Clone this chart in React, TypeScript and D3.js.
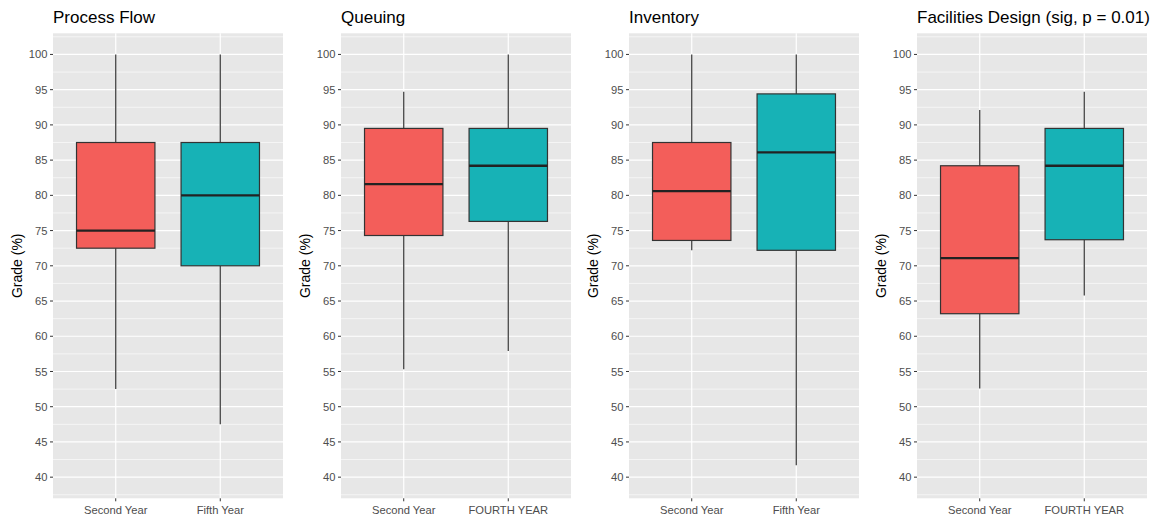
import React from "react";
import * as d3 from "d3";

// Course grade distributions, one boxplot panel per course
const courseTitles = ["Process Flow", "Queuing", "Inventory", "Facilities Design (sig, p = 0.01)"];
const groupLabels = [
  ["Second Year", "Fifth Year"],
  ["Second Year", "FOURTH YEAR"],
  ["Second Year", "Fifth Year"],
  ["Second Year", "FOURTH YEAR"],
];
// five-number summaries per course: [second-year group, later group]
const whiskerLow = [[52.5, 47.5], [55.3, 57.9], [72.2, 41.7], [52.6, 65.8]];
const quartile1 = [[72.5, 70.0], [74.3, 76.3], [73.6, 72.2], [63.2, 73.7]];
const medians = [[75.0, 80.0], [81.6, 84.2], [80.6, 86.1], [71.1, 84.2]];
const quartile3 = [[87.5, 87.5], [89.5, 89.5], [87.5, 94.4], [84.2, 89.5]];
const whiskerHigh = [[100, 100], [94.7, 100], [100, 100], [92.1, 94.7]];
const yTicks = [40, 45, 50, 55, 60, 65, 70, 75, 80, 85, 90, 95, 100];
const yLimits = [40, 100];

const fills = ["#F35E5A", "#17B2B6"];
const FONT = "'Liberation Sans', Arial, Helvetica, sans-serif";

const W = 1161;
const H = 518;
const panelLefts = [53, 341, 629, 917];
const panelW = 230;
const panelTop = 33.3;
const panelBottom = 498.3;

function Panel({ idx }: { idx: number }) {
  const left = panelLefts[idx];
  const pad = (yLimits[1] - yLimits[0]) * 0.05;
  const y = d3.scaleLinear().domain([yLimits[0] - pad, yLimits[1] + pad]).range([panelBottom, panelTop]);
  const x = d3.scalePoint<string>().domain(groupLabels[idx]).range([0, panelW]).padding(0.6);
  const boxW = x.step() * 0.75;
  const minorTicks = d3.range(yLimits[0] - 2.5, yLimits[1] + 5, 5).filter((v) => y(v) >= panelTop && y(v) <= panelBottom);
  const midY = (panelTop + panelBottom) / 2;

  return (
    <g>
      <text x={left} y={23} fontFamily={FONT} fontSize={17} fill="#000">
        {courseTitles[idx]}
      </text>
      <rect x={left} y={panelTop} width={panelW} height={panelBottom - panelTop} fill="#E7E7E7" />
      {minorTicks.map((v) => (
        <line key={"mn" + v} x1={left} x2={left + panelW} y1={y(v)} y2={y(v)} stroke="#fff" strokeWidth={0.6} />
      ))}
      {yTicks.map((v) => (
        <line key={"mj" + v} x1={left} x2={left + panelW} y1={y(v)} y2={y(v)} stroke="#fff" strokeWidth={1.2} />
      ))}
      {groupLabels[idx].map((g) => (
        <line key={"vg" + g} x1={left + x(g)!} x2={left + x(g)!} y1={panelTop} y2={panelBottom} stroke="#fff" strokeWidth={1.2} />
      ))}
      {groupLabels[idx].map((g, j) => {
        const cx = left + x(g)!;
        return (
          <g key={"bx" + g}>
            <line x1={cx} x2={cx} y1={y(whiskerHigh[idx][j])} y2={y(quartile3[idx][j])} stroke="#444" strokeWidth={1.3} />
            <line x1={cx} x2={cx} y1={y(quartile1[idx][j])} y2={y(whiskerLow[idx][j])} stroke="#444" strokeWidth={1.3} />
            <rect
              x={cx - boxW / 2}
              y={y(quartile3[idx][j])}
              width={boxW}
              height={y(quartile1[idx][j]) - y(quartile3[idx][j])}
              fill={fills[j]}
              stroke="#333"
              strokeWidth={1.2}
            />
            <line x1={cx - boxW / 2} x2={cx + boxW / 2} y1={y(medians[idx][j])} y2={y(medians[idx][j])} stroke="#222" strokeWidth={2.3} />
          </g>
        );
      })}
      {yTicks.map((v) => (
        <g key={"yt" + v}>
          <line x1={left - 3} x2={left} y1={y(v)} y2={y(v)} stroke="#333" strokeWidth={1} />
          <text x={left - 5.5} y={y(v)} dy="0.36em" textAnchor="end" fontFamily={FONT} fontSize={11.2} fill="#4D4D4D">
            {v}
          </text>
        </g>
      ))}
      {groupLabels[idx].map((g) => (
        <g key={"xt" + g}>
          <line x1={left + x(g)!} x2={left + x(g)!} y1={panelBottom} y2={panelBottom + 3} stroke="#333" strokeWidth={1} />
          <text x={left + x(g)!} y={514} textAnchor="middle" fontFamily={FONT} fontSize={11.2} fill="#4D4D4D">
            {g}
          </text>
        </g>
      ))}
      <text
        transform={`translate(${left - 31},${midY}) rotate(-90)`}
        textAnchor="middle"
        fontFamily={FONT}
        fontSize={14}
        fill="#000"
      >
        Grade (%)
      </text>
    </g>
  );
}

export default function App() {
  return (
    <svg width={W} height={H} style={{ position: "absolute", left: 0, top: 0, background: "#fff" }}>
      <rect width={W} height={H} fill="#fff" />
      {courseTitles.map((_, i) => (
        <Panel key={i} idx={i} />
      ))}
    </svg>
  );
}
